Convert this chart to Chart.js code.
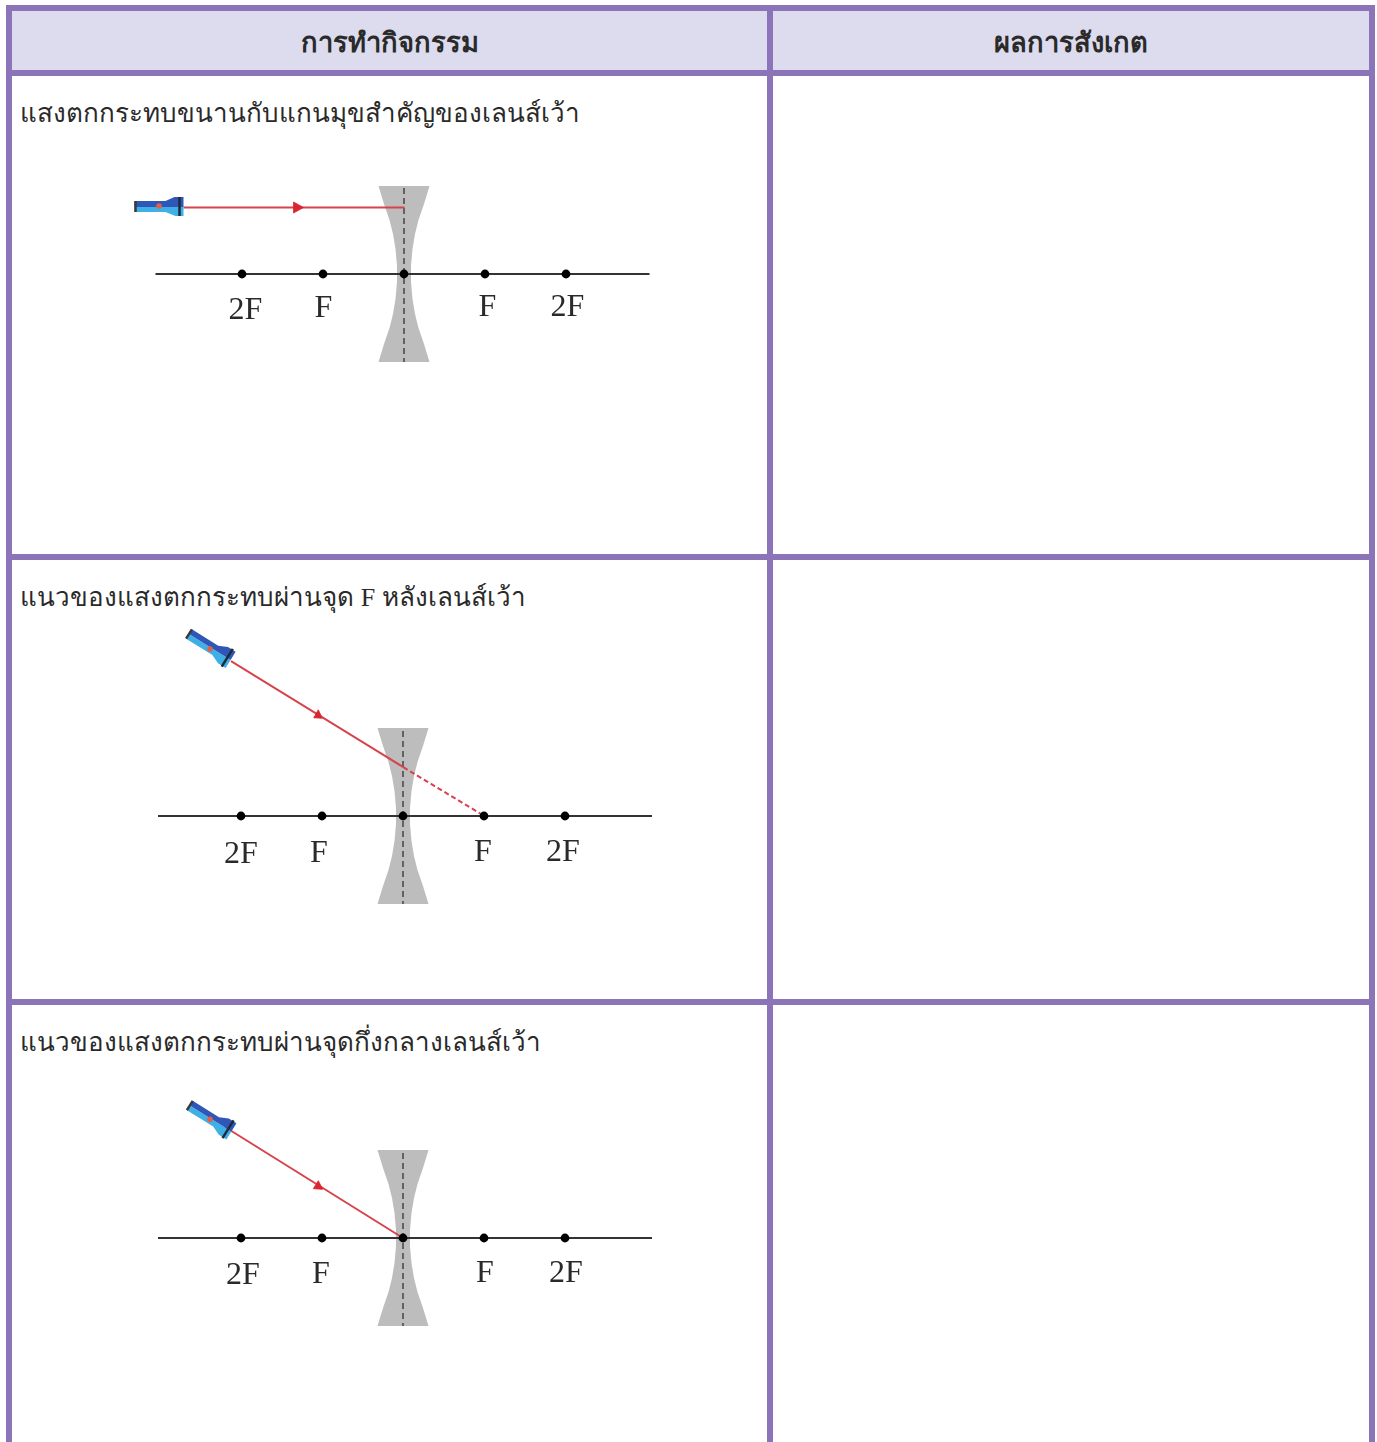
<!DOCTYPE html>
<html lang="th">
<head>
<meta charset="utf-8">
<title>การทำกิจกรรม</title>
<script src="https://cdn.jsdelivr.net/npm/chart.js@4"></script>
<style>
    html, body { margin: 0; padding: 0; background: #fff; }
    body { position: relative; width: 1377px; height: 1442px; overflow: hidden; font-family: "Noto Sans", sans-serif; color: #2a2a2a; }
    table { position: absolute; left: 6px; top: 5px; width: 1363px; border-collapse: collapse; table-layout: fixed; }
    th, td { border: 6px solid #8c74b8; vertical-align: top; padding: 0; }
    th { background: #dcdcee; font-size: 27.3px; font-weight: 700; vertical-align: middle; padding-top: 3px; }
    td { font-size: 26px; padding: 16px 0 0 8px; }
    .serif { font-family: "Liberation Serif", serif; }
    canvas { position: absolute; }
</style>
</head>
<body>
<table>
    <colgroup><col style="width:761px"><col style="width:602px"></colgroup>
    <tr style="height:65px"><th>การทำกิจกรรม</th><th>ผลการสังเกต</th></tr>
    <tr style="height:484px"><td>แสงตกกระทบขนานกับแกนมุขสำคัญของเลนส์เว้า</td><td></td></tr>
    <tr style="height:445px"><td>แนวของแสงตกกระทบผ่านจุด <span class="serif">F</span> หลังเลนส์เว้า</td><td></td></tr>
    <tr style="height:500px"><td>แนวของแสงตกกระทบผ่านจุดกึ่งกลางเลนส์เว้า</td><td></td></tr>
</table>
<canvas id="diagram-1" width="560" height="400" style="left:124px;top:74px"></canvas>
<canvas id="diagram-2" width="560" height="400" style="left:123px;top:616px"></canvas>
<canvas id="diagram-3" width="560" height="400" style="left:123px;top:1038px"></canvas>

<script>
// Focal points on the principal axis, drawing units from the lens centre (1 F = 81)
const focalX = [-162, -81, 0, 81, 162];
const focalY = [0, 0, 0, 0, 0];
const focalNames = ['2F', 'F', '', 'F', '2F'];

// Concave lens outline
const lensX = [-25.5, -20, -14.5, -11, -8.5, -7, -7, -8.5, -11, -14.5, -20, -25.5, 25.5, 20, 14.5, 11, 8.5, 7, 7, 8.5, 11, 14.5, 20, 25.5, -25.5];
const lensY = [88, 70, 54, 40, 25, 8, -8, -25, -40, -54, -70, -88, -88, -70, -54, -40, -25, -8, 8, 25, 40, 54, 70, 88, 88];

// Diagram 1: parallel ray
const axis1X = [-248.5, 245.5];
const lensMid1Y = [86, -88];
const labels1X = [-158.5, -80.5, 83.5, 163.5];
const labels1Y = [-37, -35, -34, -34];
const ray1X = [-220.5, 0.5];
const ray1Y = [66.5, 66.5];
const arrow1X = [-110.5, -100.5, -110.5, -110.5];
const arrow1Y = [72, 66.5, 61, 72];
const torchDark1X = [-269.5, -238.5, -229.5, -220.5, -220.5, -269.5, -269.5];
const torchDark1Y = [73, 73, 77, 77, 67, 67, 73];
const torchLight1X = [-269.5, -220.5, -220.5, -228.5, -238.5, -269.5, -269.5];
const torchLight1Y = [67, 67, 58, 58, 62, 62, 67];
const torchTail1X = [-268.5, -268.5];
const torchTail1Y = [73, 62];
const torchBand1X = [-224.5, -224.5];
const torchBand1Y = [77, 58];
const torchSpot1 = [{x: -245, y: 68}];

// Diagram 2: ray aimed at F behind the lens
const axis2X = [-245, 249];
const lensMid2Y = [85, -88];
const labels2X = [-162, -84, 80, 160];
const labels2Y = [-38.5, -37.5, -36.5, -36.5];
const ray2X = [-172, 0.3];
const ray2Y = [154.8, 48.8];
const rayDash2X = [0.3, 78];
const rayDash2Y = [48.8, 2];
const arrow2X = [-84.7, -89.3, -80.7, -84.7];
const arrow2Y = [106.2, 98.2, 97.8, 106.2];
const torchDark2X = [-211.1, -184.8, -175, -167.4, -172.4, -214, -211.1];
const torchDark2Y = [186.7, 170.3, 168.9, 164.2, 156.1, 182, 186.7];
const torchLight2X = [-214, -172.4, -177.4, -185, -190.6, -216.9, -214];
const torchLight2Y = [182, 156.1, 148, 152.7, 160.9, 177.3, 182];
const torchTail2X = [-211.1, -216.9];
const torchTail2Y = [186.7, 177.3];
const torchBand2X = [-170.2, -181.3];
const torchBand2Y = [167.1, 149.3];
const torchSpot2 = [{x: -193, y: 167}];

// Diagram 3: ray through the lens centre
const axis3X = [-245, 249];
const lensMid3Y = [85, -88];
const labels3X = [-160, -82, 82, 163];
const labels3Y = [-38, -37, -36, -36];
const ray3X = [-178, 0];
const ray3Y = [111, 0];
const arrow3X = [-84.7, -89.7, -80.3, -84.7];
const arrow3Y = [57.3, 49.3, 48.7, 57.3];
const torchDark3X = [-210.3, -184, -174.2, -166.6, -171.6, -213.2, -210.3];
const torchDark3Y = [137.2, 120.8, 119.4, 114.7, 106.6, 132.5, 137.2];
const torchLight3X = [-213.2, -171.6, -176.6, -184.2, -189.8, -216.1, -213.2];
const torchLight3Y = [132.5, 106.6, 98.5, 103.2, 111.4, 127.8, 132.5];
const torchTail3X = [-210.3, -216.1];
const torchTail3Y = [137.2, 127.8];
const torchBand3X = [-169.4, -180.5];
const torchBand3Y = [117.6, 99.8];
const torchSpot3 = [{x: -193, y: 118.7}];

const zip = (xs, ys) => xs.map((x, i) => ({x, y: ys[i]}));

const line = (xs, ys, color, width, order, extra) => ({
    data: zip(xs, ys), borderColor: color, borderWidth: width, pointRadius: 0,
    showLine: true, tension: 0, fill: false, order, ...extra
});
const shape = (xs, ys, color, order, width = 0) => line(xs, ys, color, width, order, {fill: 'shape', backgroundColor: color});

// Writes 2F / F under the axis
const focalLabels = {
    id: 'focalLabels',
    afterDatasetsDraw(chart, args, opts) {
        const {ctx, scales} = chart;
        ctx.save();
        ctx.font = '32px "Liberation Serif", serif';
        ctx.fillStyle = '#2a2a2a';
        ctx.textAlign = 'center';
        ctx.textBaseline = 'middle';
        opts.names.forEach((name, i) => {
            ctx.fillText(name, scales.x.getPixelForValue(opts.xs[i]), scales.y.getPixelForValue(opts.ys[i]));
        });
        ctx.restore();
    }
};

function drawDiagram(id, d) {
    new Chart(document.getElementById(id), {
        type: 'scatter',
        data: {
            datasets: [
                shape(lensX, lensY, '#bdbdbd', 10),
                line(d.axisX, [0, 0], '#333333', 2, 8),
                line([0, 0], d.midY, '#444444', 1.5, 9, {borderDash: [6, 4]}),
                ...d.rays,
                shape(d.arrowX, d.arrowY, '#d9252f', 6, 0.8),
                shape(d.darkX, d.darkY, '#2f57b8', 5),
                shape(d.lightX, d.lightY, '#3fb0e6', 5),
                line(d.tailX, d.tailY, '#3a3a3a', 2.5, 4),
                line(d.bandX, d.bandY, '#1f2a3a', 2.5, 4),
                {data: d.spot, pointRadius: 2.8, pointBackgroundColor: '#e2604a', pointBorderWidth: 0, order: 3},
                {data: zip(focalX, focalY), pointRadius: 4.4, pointBackgroundColor: '#000', pointBorderWidth: 0, order: 2}
            ]
        },
        options: {
            responsive: false,
            animation: false,
            events: [],
            layout: {padding: 0, autoPadding: false},
            scales: {
                x: {type: 'linear', display: false, min: -280, max: 280},
                y: {type: 'linear', display: false, min: -200, max: 200}
            },
            plugins: {
                legend: {display: false},
                tooltip: {enabled: false},
                focalLabels: {names: focalNames.filter(n => n), xs: d.labelX, ys: d.labelY}
            }
        },
        plugins: [focalLabels]
    });
}

const rayRed = '#d6434c';

drawDiagram('diagram-1', {
    axisX: axis1X, midY: lensMid1Y, labelX: labels1X, labelY: labels1Y,
    rays: [line(ray1X, ray1Y, rayRed, 2, 7)],
    arrowX: arrow1X, arrowY: arrow1Y,
    darkX: torchDark1X, darkY: torchDark1Y, lightX: torchLight1X, lightY: torchLight1Y,
    tailX: torchTail1X, tailY: torchTail1Y, bandX: torchBand1X, bandY: torchBand1Y, spot: torchSpot1
});
drawDiagram('diagram-2', {
    axisX: axis2X, midY: lensMid2Y, labelX: labels2X, labelY: labels2Y,
    rays: [line(ray2X, ray2Y, rayRed, 2, 7), line(rayDash2X, rayDash2Y, rayRed, 2, 7, {borderDash: [5, 3]})],
    arrowX: arrow2X, arrowY: arrow2Y,
    darkX: torchDark2X, darkY: torchDark2Y, lightX: torchLight2X, lightY: torchLight2Y,
    tailX: torchTail2X, tailY: torchTail2Y, bandX: torchBand2X, bandY: torchBand2Y, spot: torchSpot2
});
drawDiagram('diagram-3', {
    axisX: axis3X, midY: lensMid3Y, labelX: labels3X, labelY: labels3Y,
    rays: [line(ray3X, ray3Y, rayRed, 2, 7)],
    arrowX: arrow3X, arrowY: arrow3Y,
    darkX: torchDark3X, darkY: torchDark3Y, lightX: torchLight3X, lightY: torchLight3Y,
    tailX: torchTail3X, tailY: torchTail3Y, bandX: torchBand3X, bandY: torchBand3Y, spot: torchSpot3
});
</script>
</body>
</html>
